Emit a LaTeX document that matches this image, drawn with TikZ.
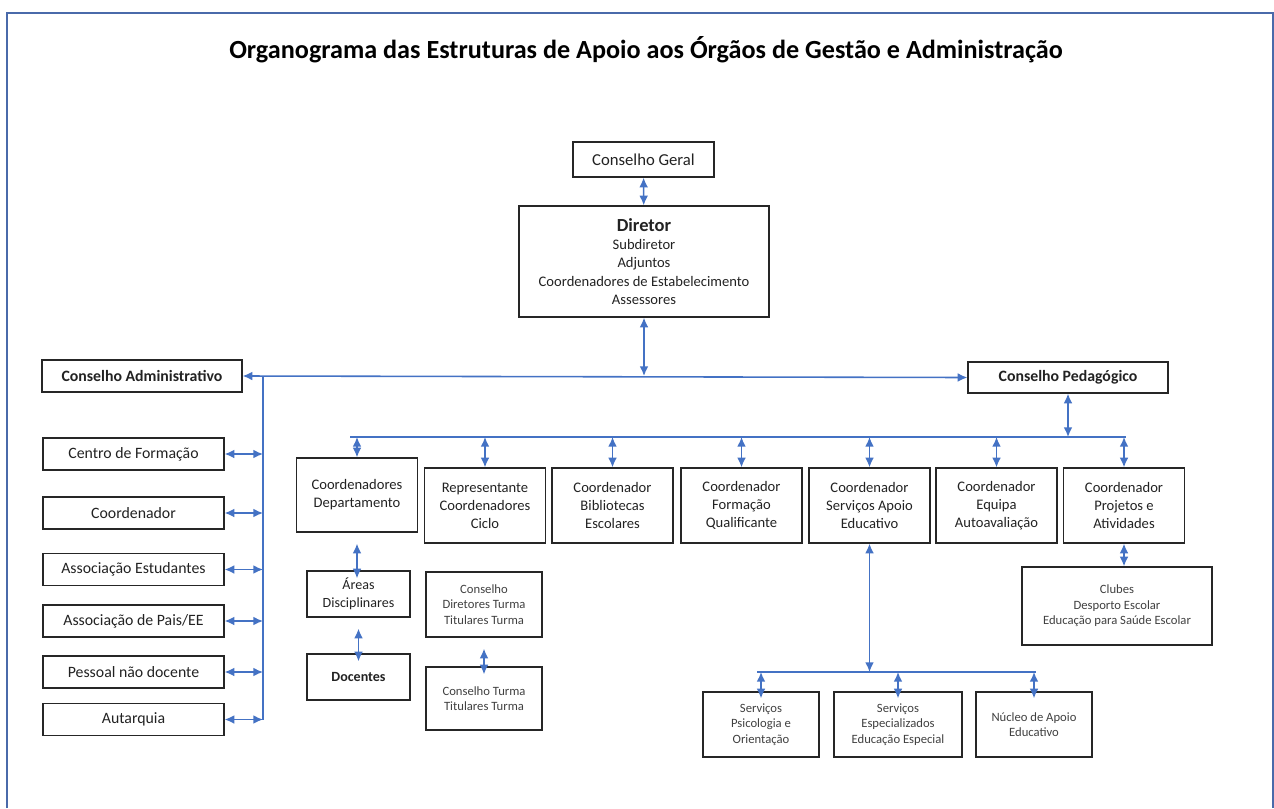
\documentclass[tikz,border=0pt]{standalone}
\usepackage{fontspec}
\setmainfont{Carlito}
\usetikzlibrary{arrows.meta}

\definecolor{linkblue}{RGB}{68,114,196}
\definecolor{framecol}{RGB}{74,106,170}
\definecolor{txt}{RGB}{34,34,34}

\begin{document}
\begin{tikzpicture}[x=0.02cm, y=-0.02cm,
  box/.style={draw=black!85, line width=0.75pt, align=center, inner sep=1pt, text=txt},
  side/.style={box, minimum width=3.62cm, minimum height=0.64cm, font=\fontsize{9}{11}\selectfont},
  row/.style={box, minimum width=2.42cm, minimum height=1.5cm, font=\fontsize{8.3}{10.3}\selectfont},
  small/.style={box, text=black!75, font=\fontsize{7.2}{8.8}\selectfont},
  link/.style={draw=linkblue, line width=0.9pt},
  both/.style={link, {Latex[length=5.5pt,width=5pt]}-{Latex[length=5.5pt,width=5pt]}},
  lowered/.style={shorten <=0.22cm, shorten >=-0.16cm}]

  \useasboundingbox (0,0) rectangle (1274,808);
  \draw[framecol, line width=1.1pt] (7,808) -- (7,13) -- (1273,13) -- (1273,808);

  \node (title) at (646,50) {\fontsize{14.9}{17}\selectfont\bfseries Organograma das Estruturas de Apoio aos Órgãos de Gestão e Administração};

  \node (cg)  at (643.5,159.5) [box, minimum width=2.82cm, minimum height=0.70cm, font=\fontsize{9.5}{11}\selectfont] {Conselho Geral};
  \node (dir) at (644,261.5) [box, minimum width=5.0cm, minimum height=2.22cm, font=\fontsize{8.3}{10.4}\selectfont]
    {{\fontsize{10.5}{13}\selectfont\bfseries Diretor}\\ Subdiretor\\ Adjuntos\\ Coordenadores de Estabelecimento\\ Assessores};

  \node (cadm) at (142,376)    [box, minimum width=4.0cm, minimum height=0.64cm, font=\fontsize{9}{11}\selectfont\bfseries] {Conselho Administrativo};
  \node (cped) at (1068,377.5) [box, minimum width=4.0cm, minimum height=0.62cm, font=\fontsize{9}{11}\selectfont\bfseries] {Conselho Pedagógico};

  \node (cf)  at (133.5,454)   [side] {Centro de Formação};
  \node (co)  at (133.5,513)   [side] {Coordenador};
  \node (ae)  at (133.5,569.5) [side] {Associação Estudantes};
  \node (ap)  at (133.5,621)   [side] {Associação de Pais/EE};
  \node (pnd) at (133.5,672)   [side] {Pessoal não docente};
  \node (aut) at (133.5,719.5) [side] {Autarquia};

  \node (cdep) at (357,495)      [row, minimum height=1.48cm] {Coordenadores\\ Departamento};
  \node (rcc)  at (485,505.5)    [row] {Representante\\ Coordenadores\\ Ciclo};
  \node (cbe)  at (612.5,505.5)  [row] {Coordenador\\ Bibliotecas\\ Escolares};
  \node (cfq)  at (741.5,505.5)  [row] {Coordenador\\ Formação\\ Qualificante};
  \node (csae) at (869.5,505.5)  [row] {Coordenador\\ Serviços Apoio\\ Educativo};
  \node (cea)  at (996.5,505.5)  [row] {Coordenador\\ Equipa\\ Autoavaliação};
  \node (cpa)  at (1124,505.5)   [row] {Coordenador\\ Projetos e\\ Atividades};

  \node (areas) at (358.5,594) [box, minimum width=2.06cm, minimum height=0.92cm, font=\fontsize{8}{10}\selectfont] {Áreas\\ Disciplinares};
  \node (doc)   at (358.5,677) [box, minimum width=2.06cm, minimum height=0.92cm, font=\fontsize{8}{10}\selectfont\bfseries] {Docentes};
  \node (cdt)   at (484,604.5) [small, minimum width=2.32cm, minimum height=1.3cm] {Conselho\\ Diretores Turma\\ Titulares Turma};
  \node (ct)    at (484,698.5) [small, minimum width=2.32cm, minimum height=1.26cm] {Conselho Turma\\ Titulares Turma};

  \node (clubes) at (1117,606) [small, minimum width=3.8cm, minimum height=1.56cm] {Clubes\\ Desporto Escolar\\ Educação para Saúde Escolar};

  \node (spo) at (761,724.5)  [small, minimum width=2.32cm, minimum height=1.3cm] {Serviços\\ Psicologia e\\ Orientação};
  \node (see) at (898,724.5)  [small, minimum width=2.56cm, minimum height=1.3cm] {Serviços\\ Especializados\\ Educação Especial};
  \node (nae) at (1034,724.5) [small, minimum width=2.32cm, minimum height=1.3cm] {Núcleo de Apoio\\ Educativo};

  \coordinate (adm)    at (263,376);
  \coordinate (admEnd) at (263,720);
  \coordinate (pedL)   at (350,437);
  \coordinate (pedR)   at (1126,437);
  \coordinate (sapL)   at (757,672);
  \coordinate (sapR)   at (1036,672);

  \draw[both] (cg) -- (dir);
  \draw[both] (dir.south) -- (dir.south |- adm);
  \draw[both] (cadm.east) -- (cped.west);

  \draw[link] (adm) -- (admEnd);
  \draw[both] (cf.east) -- (cf.east -| adm);
  \draw[both] (co.east) -- (co.east -| adm);
  \draw[both] (ae.east) -- (ae.east -| adm);
  \draw[both] (ap.east) -- (ap.east -| adm);
  \draw[both] (pnd.east) -- (pnd.east -| adm);
  \draw[both] (aut.east) -- (aut.east -| adm);

  \draw[both] (cped.south) -- (cped.south |- pedL);
  \draw[link] (pedL) -- (pedR);
  \draw[both] (cdep.north |- pedL) -- (cdep.north);
  \draw[both] (rcc.north |- pedL) -- (rcc.north);
  \draw[both] (cbe.north |- pedL) -- (cbe.north);
  \draw[both] (cfq.north |- pedL) -- (cfq.north);
  \draw[both] (csae.north |- pedL) -- (csae.north);
  \draw[both] (cea.north |- pedL) -- (cea.north);
  \draw[both] (cpa.north |- pedL) -- (cpa.north);

  \draw[both, lowered] (cdep.south) -- (cdep.south |- areas.north);
  \draw[both, lowered] (areas.south) -- (areas.south |- doc.north);
  \draw[both, lowered] (cdt.south) -- (cdt.south |- ct.north);

  \draw[both] (cpa.south) -- (cpa.south |- clubes.north);

  \draw[both] (csae.south) -- (csae.south |- sapL);
  \draw[link] (sapL) -- (sapR);
  \draw[both, shorten >=-0.14cm] (spo.north |- sapL) -- (spo.north);
  \draw[both, shorten >=-0.14cm] (see.north |- sapL) -- (see.north);
  \draw[both, shorten >=-0.14cm] (nae.north |- sapL) -- (nae.north);
\end{tikzpicture}
\end{document}
